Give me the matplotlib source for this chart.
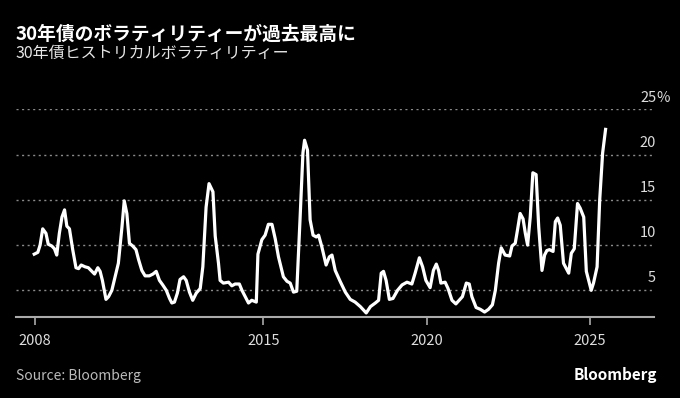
import matplotlib
matplotlib.use("Agg")
import matplotlib.pyplot as plt
import matplotlib.transforms as mtransforms

plt.rcParams['font.family'] = ['Noto Sans CJK JP', 'DejaVu Sans']

# 30年債ヒストリカルボラティリティー (decimal year, %)
years = [2007.97, 2008.08, 2008.15, 2008.23, 2008.33, 2008.40, 2008.51, 2008.59, 2008.66, 2008.74,
         2008.82, 2008.90, 2008.97, 2009.05, 2009.15, 2009.25, 2009.33, 2009.41, 2009.53, 2009.63,
         2009.74, 2009.82, 2009.92, 2009.99, 2010.06, 2010.17, 2010.25, 2010.35, 2010.45, 2010.55,
         2010.66, 2010.73, 2010.81, 2010.89, 2010.99, 2011.09, 2011.17, 2011.27, 2011.37, 2011.50,
         2011.61, 2011.71, 2011.81, 2011.91, 2012.02, 2012.12, 2012.19, 2012.27, 2012.36, 2012.44,
         2012.55, 2012.63, 2012.73, 2012.83, 2012.94, 2013.06, 2013.14, 2013.24, 2013.33, 2013.45,
         2013.52, 2013.62, 2013.67, 2013.77, 2013.93, 2014.03, 2014.13, 2014.26, 2014.34, 2014.44,
         2014.54, 2014.64, 2014.78, 2014.83, 2014.95, 2015.05, 2015.15, 2015.26, 2015.36, 2015.46,
         2015.61, 2015.72, 2015.82, 2015.92, 2016.02, 2016.12, 2016.21, 2016.26, 2016.35, 2016.43,
         2016.52, 2016.62, 2016.69, 2016.79, 2016.92, 2017.02, 2017.10, 2017.20, 2017.35, 2017.51,
         2017.66, 2017.81, 2017.97, 2018.15, 2018.28, 2018.43, 2018.53, 2018.61, 2018.68, 2018.76,
         2018.86, 2018.97, 2019.11, 2019.25, 2019.40, 2019.55, 2019.65, 2019.78, 2019.88, 2019.98,
         2020.11, 2020.21, 2020.30, 2020.37, 2020.44, 2020.57, 2020.66, 2020.78, 2020.90, 2021.00,
         2021.10, 2021.22, 2021.31, 2021.39, 2021.52, 2021.65, 2021.78, 2021.90, 2022.02, 2022.11,
         2022.21, 2022.29, 2022.41, 2022.55, 2022.62, 2022.72, 2022.79, 2022.87, 2022.96, 2023.03,
         2023.10, 2023.18, 2023.26, 2023.36, 2023.44, 2023.54, 2023.62, 2023.69, 2023.77, 2023.88,
         2023.95, 2024.02, 2024.10, 2024.20, 2024.36, 2024.44, 2024.53, 2024.63, 2024.71, 2024.82,
         2024.90, 2025.05, 2025.12, 2025.23, 2025.31, 2025.40, 2025.49]
vol = [9.0, 9.2, 10.0, 11.8, 11.3, 10.1, 9.9, 9.6, 8.9, 11.3,
       13.1, 13.9, 12.1, 11.8, 9.5, 7.5, 7.4, 7.8, 7.6, 7.5,
       7.1, 6.8, 7.5, 7.1, 6.1, 4.0, 4.3, 5.0, 6.5, 8.0,
       12.0, 14.9, 13.5, 10.2, 9.9, 9.5, 8.4, 7.2, 6.6, 6.6,
       6.8, 7.1, 6.1, 5.6, 5.0, 4.1, 3.6, 3.7, 4.7, 6.2,
       6.5, 6.1, 4.8, 3.9, 4.7, 5.2, 7.6, 14.2, 16.8, 15.9,
       11.0, 8.0, 6.1, 5.8, 5.9, 5.5, 5.7, 5.7, 5.0, 4.3,
       3.6, 3.9, 3.7, 9.0, 10.6, 11.1, 12.3, 12.3, 10.7, 8.7,
       6.5, 6.0, 5.8, 4.8, 4.9, 12.8, 20.2, 21.6, 20.5, 12.8,
       11.1, 10.9, 11.1, 9.8, 7.8, 8.7, 8.9, 7.2, 6.0, 4.8,
       4.0, 3.7, 3.2, 2.5, 3.2, 3.6, 3.9, 6.9, 7.1, 6.1,
       4.0, 4.1, 5.0, 5.6, 5.9, 5.7, 6.9, 8.6, 7.6, 6.1,
       5.3, 7.2, 7.9, 7.2, 5.8, 5.9, 5.2, 3.9, 3.5, 3.9,
       4.3, 5.8, 5.7, 4.3, 3.1, 2.9, 2.6, 2.9, 3.4, 5.0,
       8.0, 9.7, 8.9, 8.8, 9.9, 10.2, 11.7, 13.5, 12.9, 11.3,
       10.0, 13.1, 18.0, 17.8, 12.0, 7.2, 8.9, 9.4, 9.5, 9.3,
       12.6, 13.0, 12.2, 8.0, 6.9, 9.1, 9.6, 14.6, 14.1, 13.1,
       7.1, 5.0, 5.8, 7.6, 15.0, 20.2, 22.8]

yticks = [5, 10, 15, 20, 25]
xticks = [2008, 2015, 2020, 2025]

fig = plt.figure(figsize=(6.8, 3.98), dpi=100, facecolor='black')
ax = fig.add_axes([0.023, 0.2035, 0.939, 0.5214])
ax.set_facecolor('black')

for v in yticks:
    ax.axhline(v, color='#8a8a8a', lw=1, ls=(0, (1.5, 2.5)), zorder=1)

ax.plot(years, vol, color='white', lw=2.3, solid_joinstyle='round', zorder=3)

ax.set_xlim(2007.40, 2026.98)
ax.set_ylim(2.05, 25)

for s in ['top', 'right', 'left']:
    ax.spines[s].set_visible(False)
ax.spines['bottom'].set_color('#aaaaaa')
ax.spines['bottom'].set_linewidth(1.5)

ax.set_xticks(xticks)
ax.set_xticklabels([str(x) for x in xticks])
ax.tick_params(axis='x', colors='#aaaaaa', length=6, width=1.2, labelsize=10.5,
               labelcolor='#dddddd', pad=6)
ax.set_yticks([])

# y labels sit above the gridlines at the right end
trans = mtransforms.blended_transform_factory(ax.transAxes, ax.transData)
offset = mtransforms.ScaledTranslation(0, 3.5 / 72, fig.dpi_scale_trans)
for v in yticks:
    ax.text(1.003, v, str(v), transform=trans + offset, ha='right', va='bottom',
            color='#dddddd', fontsize=10.5)
ax.text(1.003, 25, '%', transform=trans + offset, ha='left', va='bottom',
        color='#dddddd', fontsize=10.5)

fig.text(0.023, 0.915, '30年債のボラティリティーが過去最高に', color='white',
         fontsize=13.5, fontweight='bold', va='center', ha='left')
fig.text(0.023, 0.865, '30年債ヒストリカルボラティリティー', color='#e6e6e6',
         fontsize=11.5, va='center', ha='left')
fig.text(0.023, 0.055, 'Source: Bloomberg', color='#bbbbbb', fontsize=10,
         va='center', ha='left')
fig.text(0.967, 0.058, 'Bloomberg', color='white', fontsize=11, fontweight='bold',
         va='center', ha='right')

fig.savefig('out.png', dpi=100, facecolor='black')
